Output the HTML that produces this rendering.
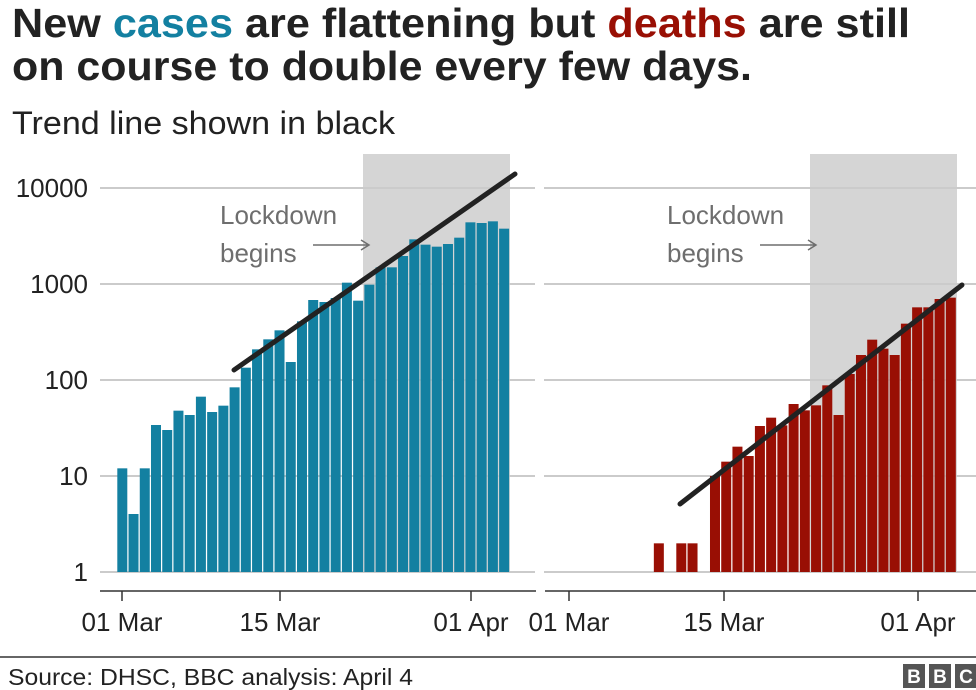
<!DOCTYPE html>
<html><head><meta charset="utf-8"><style>
body{margin:0;background:#fff;width:976px;height:690px;overflow:hidden}
svg{display:block;font-family:"Liberation Sans",Arial,sans-serif}
</style></head><body>
<svg width="976" height="690" viewBox="0 0 976 690">
<text x="12" y="37" font-size="41" font-weight="bold" fill="#222" textLength="898" lengthAdjust="spacingAndGlyphs">New <tspan fill="#1380a1">cases</tspan> are flattening but <tspan fill="#990f04">deaths</tspan> are still</text>
<text x="12" y="80" font-size="41" font-weight="bold" fill="#222" textLength="740" lengthAdjust="spacingAndGlyphs">on course to double every few days.</text>
<text x="12" y="134" font-size="32" fill="#222" textLength="383" lengthAdjust="spacingAndGlyphs">Trend line shown in black</text>
<rect x="363" y="154" width="147" height="418" fill="#d5d5d5"/>
<rect x="810" y="154" width="147" height="418" fill="#d5d5d5"/>
<g stroke="#cbcbcb" stroke-width="2">
<line x1="100" y1="188" x2="535" y2="188"/><line x1="544" y1="188" x2="976" y2="188"/>
<line x1="100" y1="284" x2="535" y2="284"/><line x1="544" y1="284" x2="976" y2="284"/>
<line x1="100" y1="380" x2="535" y2="380"/><line x1="544" y1="380" x2="976" y2="380"/>
<line x1="100" y1="476" x2="535" y2="476"/><line x1="544" y1="476" x2="976" y2="476"/>
<line x1="100" y1="572" x2="535" y2="572"/><line x1="544" y1="572" x2="976" y2="572"/>
</g>
<g font-size="26" fill="#222" text-anchor="end">
<text x="88" y="197">10000</text><text x="88" y="293">1000</text><text x="88" y="389">100</text><text x="88" y="485">10</text><text x="88" y="581">1</text>
</g>
<g id="L" fill="#1380a1"></g>
<g id="R" fill="#990f04"></g>
<g font-size="26" fill="#6e6e6e">
<text x="220" y="224">Lockdown</text><text x="220" y="262">begins</text>
<text x="667" y="224">Lockdown</text><text x="667" y="262">begins</text>
</g>
<g stroke="#6e6e6e" stroke-width="1.5" fill="none">
<path d="M313 245H369M361 240L369 245L361 250"/>
<path d="M760 245H816M808 240L816 245L808 250"/>
</g>
<g stroke="#222" stroke-width="5" stroke-linecap="round">
<line x1="234" y1="370" x2="515" y2="174"/>
<line x1="680" y1="504" x2="962" y2="285"/>
</g>
<g stroke="#333" stroke-width="1.5">
<line x1="100" y1="591" x2="536" y2="591"/><line x1="545" y1="591" x2="976" y2="591"/>
<line x1="122" y1="591" x2="122" y2="601"/><line x1="280" y1="591" x2="280" y2="601"/><line x1="471" y1="591" x2="471" y2="601"/>
<line x1="569" y1="591" x2="569" y2="601"/><line x1="724" y1="591" x2="724" y2="601"/><line x1="918" y1="591" x2="918" y2="601"/>
</g>
<g font-size="26" fill="#222" text-anchor="middle">
<text x="122" y="631">01 Mar</text><text x="280" y="631">15 Mar</text><text x="471" y="631">01 Apr</text>
<text x="569" y="631">01 Mar</text><text x="724" y="631">15 Mar</text><text x="918" y="631">01 Apr</text>
</g>
<line x1="0" y1="657" x2="976" y2="657" stroke="#333" stroke-width="1.5"/>
<text x="8" y="685" font-size="23" fill="#222" textLength="405" lengthAdjust="spacingAndGlyphs">Source: DHSC, BBC analysis: April 4</text>
<g fill="#555"><rect x="903" y="664" width="22" height="24"/><rect x="929" y="664" width="22" height="24"/><rect x="955" y="664" width="21" height="24"/></g>
<g fill="#fff" font-size="19" font-weight="bold" text-anchor="middle"><text x="914" y="683">B</text><text x="940" y="683">B</text><text x="966" y="683">C</text></g>
</svg>
<script>
var ns="http://www.w3.org/2000/svg";
var L=[955,1092,955,825,840,782,795,740,786,767,712,653,598,568,541,636,514,450,456,444,398,452,404,352,352,318,268,284,290,282,263,217,219,214,236];
var g=document.getElementById("L");
L.forEach(function(z,i){var r=document.createElementNS(ns,"rect");var y=z/3+150;var x=117.3+i*11.23;
r.setAttribute("x",x);r.setAttribute("y",y);r.setAttribute("width",10);r.setAttribute("height",572-y);g.appendChild(r);});
var R={8:1180,10:1180,11:1180};
var rz=[978,935,890,918,828,803,826,762,781,766,706,795,672,615,569,596,615,521,472,472,447,443];
rz.forEach(function(z,i){R[13+i]=z;});
var g2=document.getElementById("R");
for(var k in R){var y=R[k]/3+150;var x=564+k*11.23;var r=document.createElementNS(ns,"rect");
r.setAttribute("x",x);r.setAttribute("y",y);r.setAttribute("width",10);r.setAttribute("height",572-y);g2.appendChild(r);}
</script>
</body></html>
